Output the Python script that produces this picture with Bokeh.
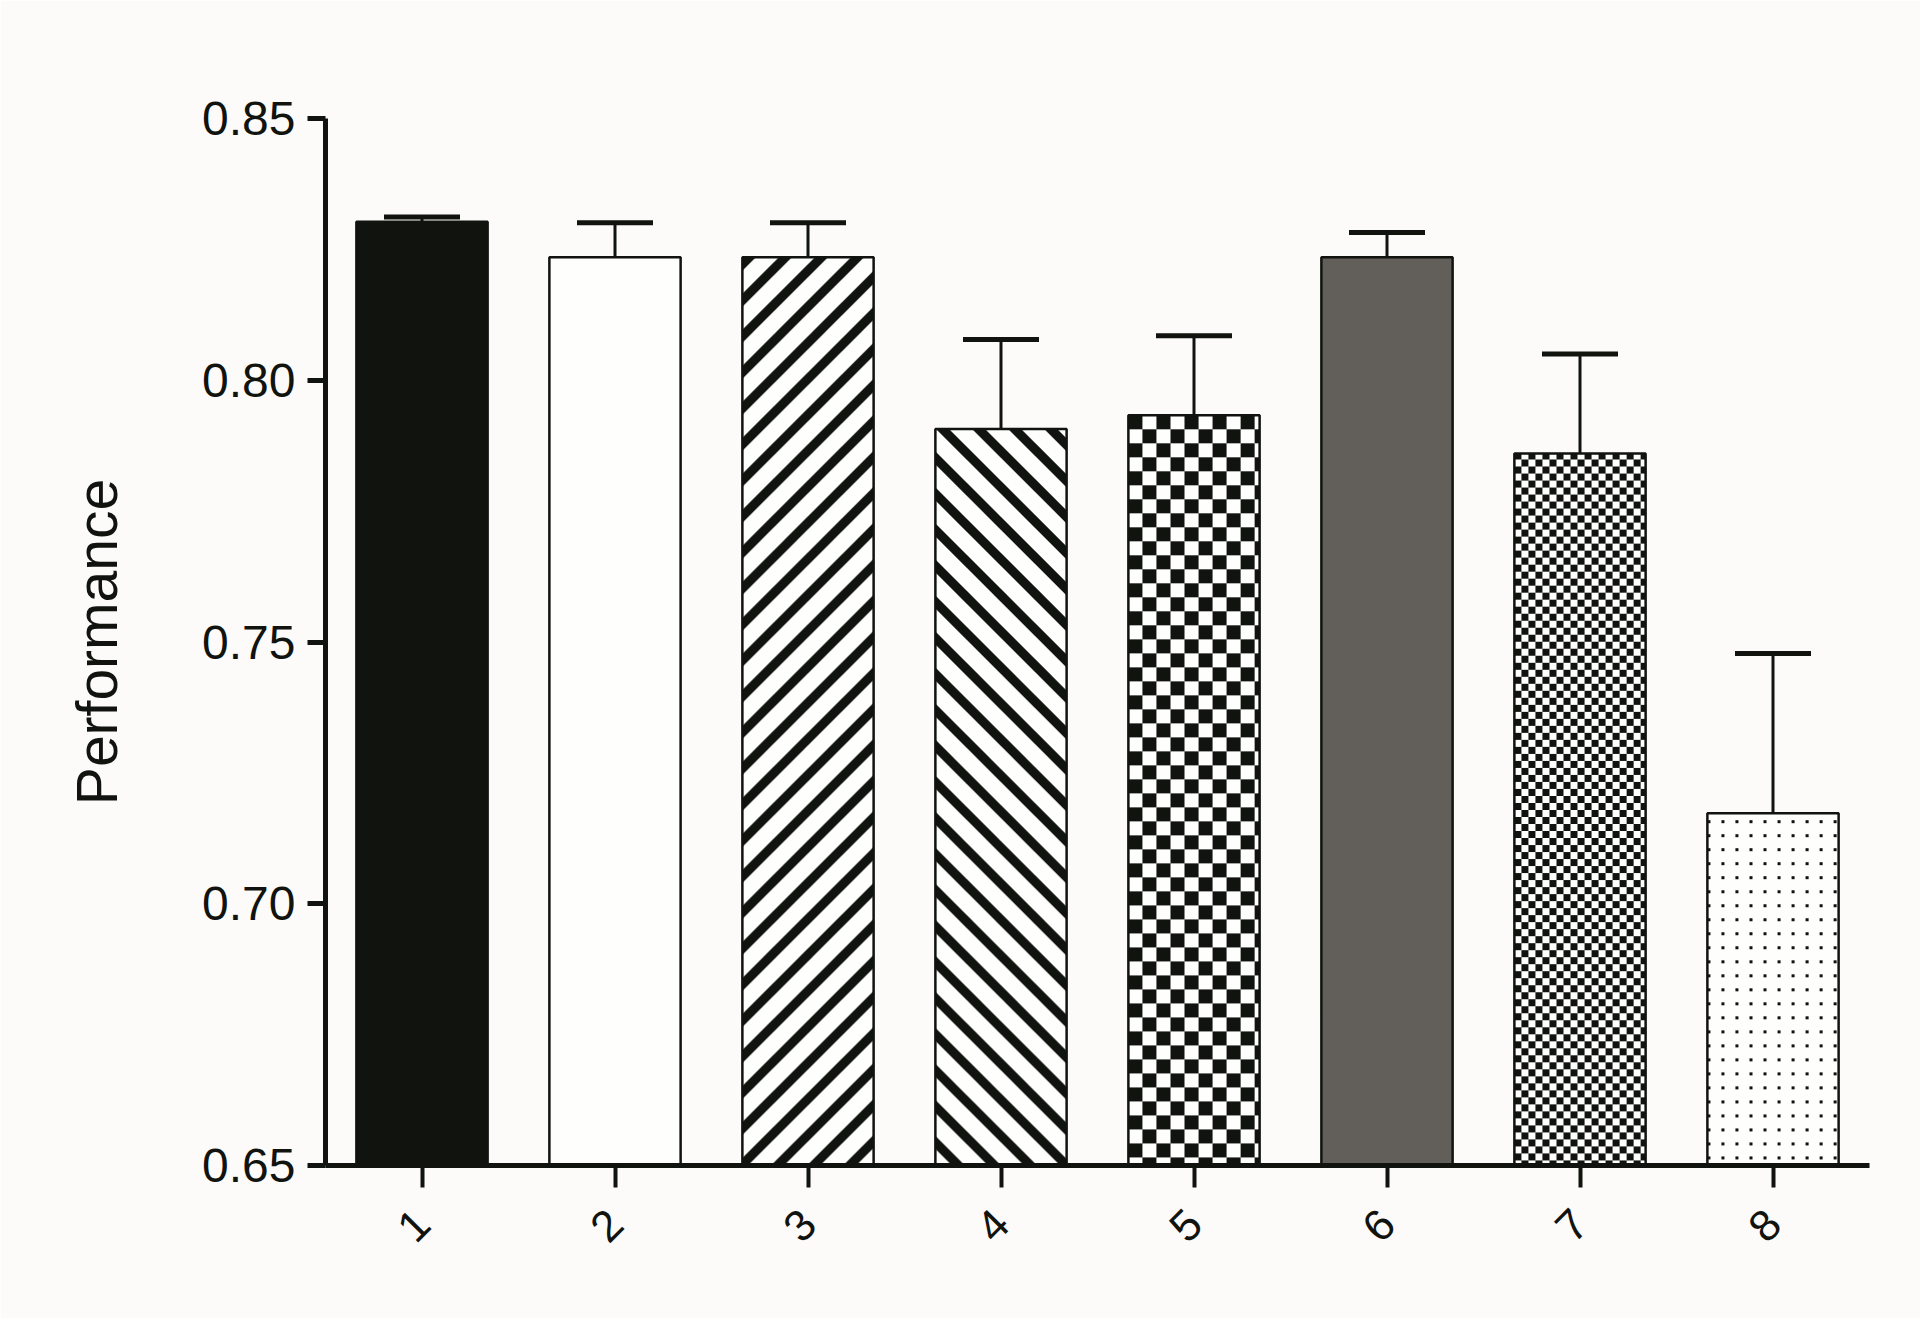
from math import pi

import numpy as np
from bokeh.plotting import figure
from bokeh.models import (ColumnDataSource, Range1d, FixedTicker,
                          NumeralTickFormatter, Whisker, TeeHead)
from bokeh.embed import file_html
from bokeh.resources import INLINE

# ---------------- data ----------------
categories = ["1", "2", "3", "4", "5", "6", "7", "8"]
performance = [0.8303, 0.8235, 0.8235, 0.7907, 0.7933, 0.8235, 0.7860, 0.7173]
error_upper = [0.0009, 0.0066, 0.0066, 0.0171, 0.0152, 0.0047, 0.0190, 0.0305]
y_ticks = [0.65, 0.70, 0.75, 0.80, 0.85]
y_label = "Performance"

# ---------------- layout / styles ----------------
INK = "#11130e"
BG = "#fcfbf9"
WHITE = "#fefefd"
GREY = "#625f5b"
FONT = "Liberation Sans"

W, H = 1920, 1318
BL, BR, BT, BB = 325, 51, 118, 153
FRAME_W = W - BL - BR
FRAME_H = H - BT - BB
BAR_W = 0.68

positions = list(range(1, len(categories) + 1))
x_lo, x_hi = 0.5, len(categories) + 0.5
px_per_x = FRAME_W / (x_hi - x_lo)
px_per_y = FRAME_H / (y_ticks[-1] - y_ticks[0])

INK_RGBA = np.uint32(0xFF0E1311)    # little endian RGBA -> (17,19,14,255)
WHITE_RGBA = np.uint32(0xFFFDFEFE)


def texture(kind, w, h):
    r, c = np.mgrid[0:h, 0:w]
    if kind == "rdiag":
        mask = ((c + r) % 36) < 13
    elif kind == "ldiag":
        mask = ((c - r) % 36) < 13
    elif kind == "check14":
        mask = ((c // 14 + r // 14) % 2) == 0
    elif kind == "check7":
        mask = ((c // 7 + r // 7) % 2) == 0
    elif kind == "dots":
        mask = ((c % 14) < 3) & (((r + 7) % 14) < 3)
    else:
        mask = np.zeros((h, w), bool)
    img = np.where(mask, INK_RGBA, WHITE_RGBA).astype(np.uint32)
    return np.flipud(img)  # bokeh draws row 0 at the bottom


bar_fill = [INK, WHITE, WHITE, WHITE, WHITE, GREY, WHITE, WHITE]
bar_texture = [None, None, "rdiag", "ldiag", "check14", None, "check7", "dots"]

p = figure(
    width=W, height=H,
    x_range=Range1d(x_lo, x_hi),
    y_range=Range1d(y_ticks[0], y_ticks[-1]),
    output_backend="svg", toolbar_location=None,
    min_border_left=BL, min_border_right=BR, min_border_top=BT, min_border_bottom=BB,
    background_fill_color=BG, border_fill_color=BG,
)
p.outline_line_color = None
p.xgrid.visible = False
p.ygrid.visible = False

# bar fills
p.vbar(x=positions, top=performance, bottom=y_ticks[0], width=BAR_W,
       fill_color=bar_fill, line_color=None)

# bar textures
for i, kind in enumerate(bar_texture):
    if kind is None:
        continue
    left = positions[i] - BAR_W / 2
    dh = performance[i] - y_ticks[0]
    w_px = int(round(BAR_W * px_per_x))
    h_px = int(round(dh * px_per_y))
    p.image_rgba(image=[texture(kind, w_px, h_px)], x=left, y=y_ticks[0], dw=BAR_W, dh=dh)

# bar outlines
p.vbar(x=positions, top=performance, bottom=y_ticks[0], width=BAR_W,
       fill_color=None, line_color=INK, line_width=2.5)

# error bars (upper only)
src = ColumnDataSource(dict(
    x=positions,
    lower=performance,
    upper=[v + e for v, e in zip(performance, error_upper)],
))
whisker = Whisker(source=src, base="x", lower="lower", upper="upper", dimension="height",
                  line_color=INK, line_width=3,
                  upper_head=TeeHead(size=76, line_width=5, line_color=INK),
                  lower_head=None)
p.add_layout(whisker)

# y axis
ya = p.yaxis[0]
ya.ticker = FixedTicker(ticks=y_ticks)
ya.formatter = NumeralTickFormatter(format="0.00")
ya.axis_line_width = 5
ya.axis_line_color = INK
ya.major_tick_line_width = 5
ya.major_tick_line_color = INK
ya.major_tick_out = 18
ya.major_tick_in = 0
ya.minor_tick_line_color = None
ya.major_label_text_font = FONT
ya.major_label_text_font_size = "48px"
ya.major_label_text_color = INK
ya.major_label_standoff = 12
ya.axis_label = y_label
ya.axis_label_text_font = FONT
ya.axis_label_text_font_size = "57px"
ya.axis_label_text_font_style = "normal"
ya.axis_label_text_color = INK
ya.axis_label_standoff = 70

# x axis
xa = p.xaxis[0]
xa.ticker = FixedTicker(ticks=positions)
xa.major_label_overrides = {pos: lab for pos, lab in zip(positions, categories)}
xa.axis_line_width = 5
xa.axis_line_color = INK
xa.major_tick_line_width = 4
xa.major_tick_line_color = INK
xa.major_tick_out = 22
xa.major_tick_in = 0
xa.minor_tick_line_color = None
xa.major_label_orientation = pi / 4
xa.major_label_text_font = FONT
xa.major_label_text_font_size = "44px"
xa.major_label_text_color = INK
xa.major_label_standoff = 29

open("out.html", "w").write(file_html(p, INLINE))
